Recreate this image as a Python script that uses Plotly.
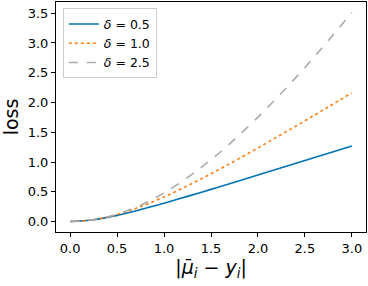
import plotly.graph_objects as go

x_vals = [0, 0.25, 0.5, 0.75, 1.0, 1.25, 1.5, 1.75, 2.0, 2.25, 2.5, 2.75, 3.0]
loss_d05 = [0, 0.0295, 0.1036, 0.2007, 0.3090, 0.4231, 0.5406, 0.6600, 0.7808, 0.9025, 1.0248, 1.1476, 1.2707]
loss_d10 = [0, 0.0308, 0.1180, 0.2500, 0.4142, 0.6008, 0.8028, 1.0156, 1.2361, 1.4622, 1.6926, 1.9262, 2.1623]
loss_d25 = [0, 0.0312, 0.1238, 0.2752, 0.4815, 0.7377, 1.0387, 1.3791, 1.7539, 2.1585, 2.5888, 3.0413, 3.5128]
labels = ["<i>δ</i> = 0.5", "<i>δ</i> = 1.0", "<i>δ</i> = 2.5"]
x_ticks = [0, 0.5, 1.0, 1.5, 2.0, 2.5, 3.0]
y_ticks = [0, 0.5, 1.0, 1.5, 2.0, 2.5, 3.0, 3.5]

fig = go.Figure()
styles = [("#0072b2", "solid"), ("#ff7f0e", "dot"), ("#aaaaaa", "dash")]
for ys, lab, (c, d) in zip([loss_d05, loss_d10, loss_d25], labels, styles):
    fig.add_trace(go.Scatter(x=x_vals, y=ys, mode="lines", name=lab,
                             line=dict(color=c, dash=d, width=1.6, shape="spline")))

font = dict(family="DejaVu Sans", size=13, color="black")
fig.update_layout(
    width=368, height=286,
    margin=dict(l=56, r=2, t=2, b=54),
    paper_bgcolor="white", plot_bgcolor="white",
    font=font,
    showlegend=True,
    legend=dict(x=0.022, y=0.972, xanchor="left", yanchor="top",
                bordercolor="#cccccc", borderwidth=1, bgcolor="white",
                font=dict(family="DejaVu Sans", size=12.5), tracegroupgap=0,
                itemwidth=30),
)
fig.update_xaxes(range=[-0.15, 3.15], tickvals=x_ticks,
                 ticktext=[f"{v:.1f}" for v in x_ticks],
                 ticks="outside", ticklen=4, tickcolor="black",
                 showline=True, linecolor="black", linewidth=1, mirror=True,
                 showgrid=False, zeroline=False, automargin=False,
                 title=dict(text="|<i>μ̄</i><sub><i>i</i></sub> − <i>y</i><sub><i>i</i></sub>|",
                            font=dict(size=19), standoff=6))
fig.update_yaxes(range=[-0.1756, 3.688], tickvals=y_ticks,
                 ticktext=[f"{v:.1f}" for v in y_ticks],
                 ticks="outside", ticklen=4, tickcolor="black",
                 showline=True, linecolor="black", linewidth=1, mirror=True,
                 showgrid=False, zeroline=False, automargin=False,
                 title=dict(text="loss", font=dict(size=19), standoff=8))

fig.write_html("out.html", config={"displayModeBar": False},
               post_script="document.body.style.margin='0';")
